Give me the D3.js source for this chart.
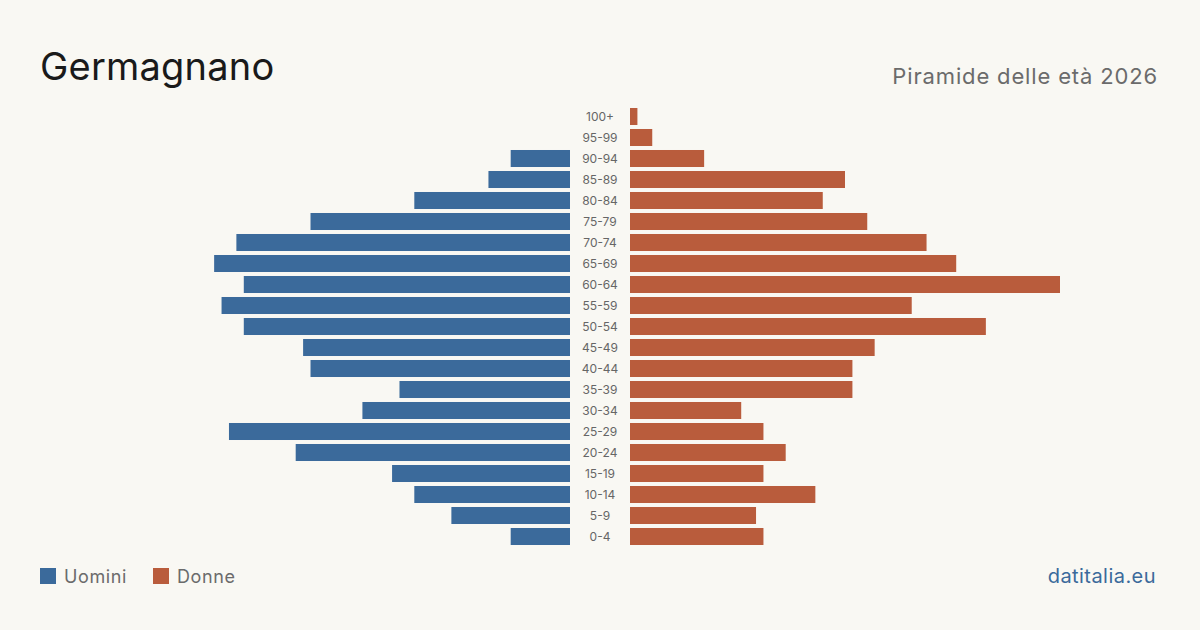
<!DOCTYPE html>
<html>
<head>
<meta charset="utf-8">
<script src="https://cdn.jsdelivr.net/npm/d3@7"></script>
<style>
  body { margin: 0; background: #f9f8f3; }
  svg { display: block; font-family: Inter, "Liberation Sans", sans-serif; }
</style>
</head>
<body>
<div id="chart"></div>
<script>
// fasce d'età, dal basso verso l'alto
let ageGroups = ["0-4", "5-9", "10-14", "15-19", "20-24", "25-29", "30-34", "35-39",
  "40-44", "45-49", "50-54", "55-59", "60-64", "65-69", "70-74", "75-79",
  "80-84", "85-89", "90-94", "95-99", "100+"];
let men =   [8, 16, 21, 24, 37, 46, 28, 23, 35, 36, 44, 47, 44, 48, 45, 35, 21, 11, 8, 0, 0];
let women = [18, 17, 25, 18, 21, 18, 15, 30, 30, 33, 48, 38, 58, 44, 40, 32, 26, 29, 10, 3, 1];

let width = 1200, height = 630;
let center = 600, gap = 30;

let svg = d3.select("#chart").append("svg")
  .attr("width", width)
  .attr("height", height)
  .style("background", "#f9f8f3");

let maxVal = d3.max(men.concat(women));

let x = d3.scaleLinear()
  .domain([0, maxVal])
  .range([0, 430]);

let y = d3.scaleBand()
  .domain(ageGroups.slice().reverse())
  .range([106, 547])
  .paddingInner(0.19)
  .paddingOuter(0.095);

let data = ageGroups.map((a, i) => ({ age: a, m: men[i], f: women[i] }));

svg.append("g").selectAll("rect")
  .data(data)
  .enter()
  .append("rect")
  .attr("x", d => center - gap - x(d.m))
  .attr("y", d => y(d.age))
  .attr("width", d => x(d.m))
  .attr("height", y.bandwidth())
  .attr("fill", "#3b6a9b");

svg.append("g").selectAll("rect")
  .data(data)
  .enter()
  .append("rect")
  .attr("x", center + gap)
  .attr("y", d => y(d.age))
  .attr("width", d => x(d.f))
  .attr("height", y.bandwidth())
  .attr("fill", "#b95c3c");

svg.append("g").selectAll("text")
  .data(data)
  .enter()
  .append("text")
  .attr("x", center)
  .attr("y", d => y(d.age) + y.bandwidth() / 2)
  .attr("dy", "0.35em")
  .attr("text-anchor", "middle")
  .attr("font-size", 12)
  .attr("fill", "#666")
  .text(d => d.age);

svg.append("text")
  .attr("x", 40)
  .attr("y", 80)
  .attr("font-size", 38)
  .attr("letter-spacing", 0.2)
  .attr("fill", "#1a1a1a")
  .text("Germagnano");

svg.append("text")
  .attr("x", 1158)
  .attr("y", 84)
  .attr("text-anchor", "end")
  .attr("font-size", 22)
  .attr("letter-spacing", 0.85)
  .attr("fill", "#6b6b6b")
  .text("Piramide delle età 2026");

let legend = [{ label: "Uomini", color: "#3b6a9b", x: 40 }, { label: "Donne", color: "#b95c3c", x: 153 }];
let lg = svg.append("g").selectAll("g")
  .data(legend)
  .enter()
  .append("g")
  .attr("transform", d => "translate(" + d.x + ",568)");
lg.append("rect")
  .attr("width", 16)
  .attr("height", 16)
  .attr("fill", d => d.color);
lg.append("text")
  .attr("x", 24)
  .attr("y", 15)
  .attr("font-size", 18)
  .attr("letter-spacing", 0.6)
  .attr("fill", "#6b6b6b")
  .text(d => d.label);

svg.append("text")
  .attr("x", 1156)
  .attr("y", 583)
  .attr("text-anchor", "end")
  .attr("font-size", 20)
  .attr("letter-spacing", 0.45)
  .attr("fill", "#3b6a9b")
  .text("datitalia.eu");
</script>
</body>
</html>
